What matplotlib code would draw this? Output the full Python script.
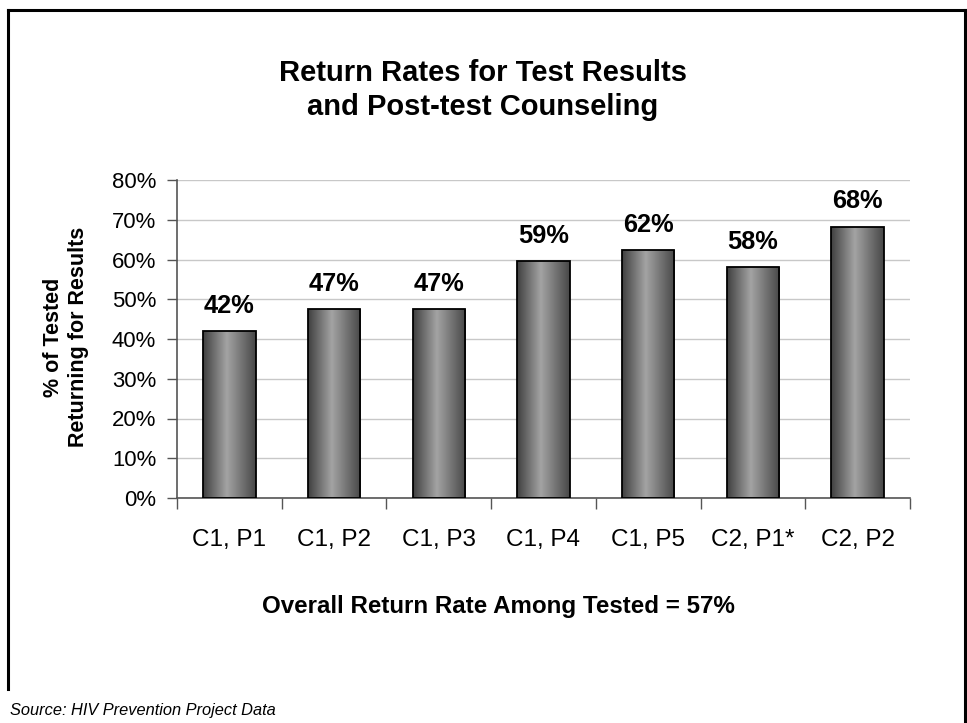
import matplotlib
matplotlib.use("Agg")
import matplotlib.pyplot as plt
import numpy as np
from matplotlib.lines import Line2D

categories = ["C1, P1", "C1, P2", "C1, P3", "C1, P4", "C1, P5", "C2, P1*", "C2, P2"]
values = [42.0, 47.5, 47.5, 59.6, 62.3, 58.0, 68.3]
value_labels = ["42%", "47%", "47%", "59%", "62%", "58%", "68%"]
yticks = [0, 10, 20, 30, 40, 50, 60, 70, 80]
ytick_labels = [f"{t}%" for t in yticks]

plt.rcParams['font.family'] = ['Liberation Sans', 'DejaVu Sans']

fig = plt.figure(figsize=(9.67, 7.23), dpi=100)
W, H = 967, 723
ax = fig.add_axes([177 / W, 1 - 498 / H, (910 - 177) / W, (498 - 180) / H])

x = np.arange(len(categories))
bw = 0.5
bars = ax.bar(x, values, width=bw, color='none', edgecolor='black', linewidth=1.3, zorder=3)

# horizontal gradient fill
g = np.linspace(0, 1, 256)
prof = np.interp(g, [0, 0.45, 1], [0.25, 0.64, 0.28])
grad = np.tile(prof, (2, 1))
for b in bars:
    x0, y0 = b.get_x(), b.get_y()
    w, h = b.get_width(), b.get_height()
    im = ax.imshow(grad, cmap='gray', vmin=0, vmax=1, aspect='auto',
                   extent=[x0, x0 + w, y0, y0 + h], zorder=2, interpolation='bilinear')
    im.set_clip_path(b)

for xi, v, lab in zip(x, values, value_labels):
    ax.text(xi, v + 3.3, lab, ha='center', va='bottom', fontsize=18.3, fontweight='bold')

ax.set_xlim(-0.5, len(categories) - 0.5)
ax.set_ylim(0, 80)
ax.set_yticks(yticks)
ax.set_yticklabels(ytick_labels, fontsize=15.9)
ax.yaxis.grid(True, color='#c8c8c8', linewidth=1)
ax.set_axisbelow(True)
ax.tick_params(axis='y', length=7, width=1, color='#555555', pad=8)

ax.set_xticks(x)
ax.set_xticklabels(categories, fontsize=17.5)
ax.tick_params(axis='x', length=0, pad=22)
ax.set_xticks(np.arange(-0.5, len(categories)), minor=True)
ax.tick_params(axis='x', which='minor', length=8, width=1, color='#555555')

for s in ['top', 'right']:
    ax.spines[s].set_visible(False)
ax.spines['left'].set_color('#555555')
ax.spines['bottom'].set_color('#555555')
ax.spines['left'].set_linewidth(1.2)
ax.spines['bottom'].set_linewidth(1.2)

fig.text(66 / W, 1 - 337 / H, "% of Tested\nReturning for Results", rotation=90,
         ha='center', va='center', fontsize=15.5, fontweight='bold', linespacing=1.25)

fig.text(483 / W, 1 - 90 / H, "Return Rates for Test Results\nand Post-test Counseling",
         ha='center', va='center', fontsize=21, fontweight='bold', linespacing=1.3)
fig.text(498 / W, 1 - 606 / H, "Overall Return Rate Among Tested = 57%",
         ha='center', va='center', fontsize=17.4, fontweight='bold')
fig.text(10 / W, 1 - 710 / H, "Source: HIV Prevention Project Data",
         ha='left', va='center', fontsize=11.8, style='italic')

# slide frame
lw = 2.2
fig.add_artist(Line2D([8 / W, 965 / W], [1 - 10 / H, 1 - 10 / H], color='black', linewidth=lw))
fig.add_artist(Line2D([8 / W, 8 / W], [1 - 10 / H, 1 - 689 / H], color='black', linewidth=lw))
fig.add_artist(Line2D([965 / W, 965 / W], [1 - 10 / H, 0], color='black', linewidth=lw))

fig.savefig("out.png", dpi=100)
